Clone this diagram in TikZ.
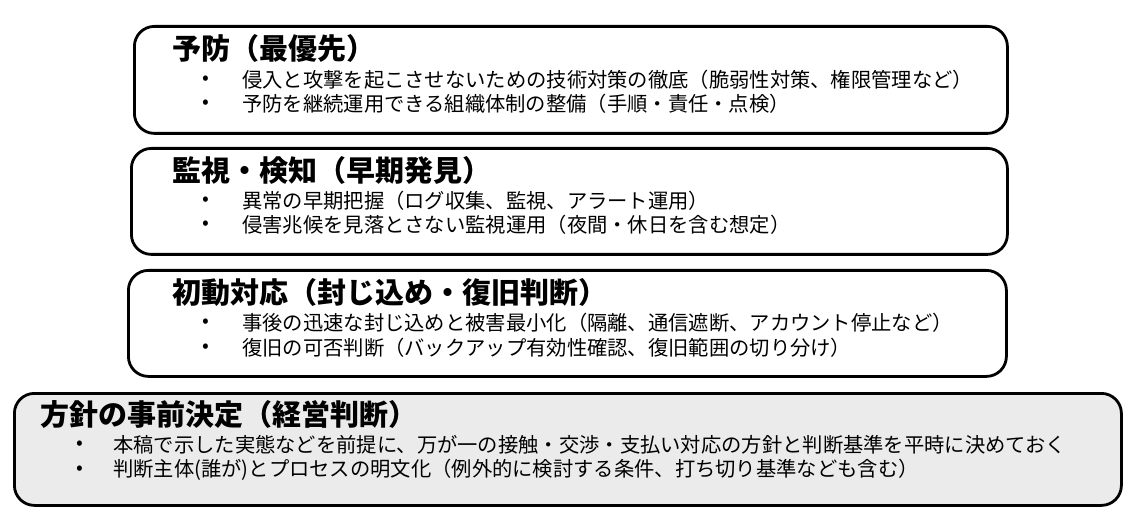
\documentclass[tikz,border=0pt]{standalone}
\usepackage{fontspec}
\setmainfont{Noto Sans CJK JP}
\usetikzlibrary{positioning}
\tikzset{
  stagebox/.style={draw,line width=2.8pt,rounded corners=20pt,inner sep=0pt,anchor=north west},
  stagetitle/.style={anchor=west,inner sep=0pt,font=\fontsize{29}{29}\selectfont\bfseries},
  stageitem/.style={anchor=west,inner sep=0pt,font=\fontsize{20.3}{20.3}\selectfont},
  stagedot/.style={inner sep=0pt,font=\fontsize{20}{20}\selectfont}
}

\begin{document}
\begin{tikzpicture}[x=1pt,y=-1pt]
    \useasboundingbox (0,0) rectangle (1140,521);
    % boxes, top to bottom
    \node[stagebox,minimum width=873pt,minimum height=107pt] (prevbox) at (133,25) {};
    \node[stagebox,minimum width=876pt,minimum height=106pt] (watchbox) at (130,147) {};
    \node[stagebox,minimum width=878pt,minimum height=106pt] (respbox) at (127,269) {};
    \node[stagebox,fill=black!8,minimum width=1107pt,minimum height=112pt] (policybox) at (13,392) {};
    % prevention
    \node[stagetitle] (prevtitle) at (172,48) {予防（最優先）};
    \node[stagedot] (prevdota) at (206,80) {•};
    \node[stageitem] (preva) at (242,80) {侵入と攻撃を起こさせないための技術対策の徹底（脆弱性対策、権限管理など）};
    \node[stagedot] (prevdotb) at (206,104) {•};
    \node[stageitem] (prevb) at (242,104) {予防を継続運用できる組織体制の整備（手順・責任・点検）};
    % monitoring
    \node[stagetitle] (watchtitle) at (172,170) {監視・検知（早期発見）};
    \node[stagedot] (watchdota) at (206,201) {•};
    \node[stageitem] (watcha) at (242,201) {異常の早期把握（ログ収集、監視、アラート運用）};
    \node[stagedot] (watchdotb) at (206,225) {•};
    \node[stageitem] (watchb) at (242,225) {侵害兆候を見落とさない監視運用（夜間・休日を含む想定）};
    % first response
    \node[stagetitle] (resptitle) at (172,292) {初動対応（封じ込め・復旧判断）};
    \node[stagedot] (respdota) at (206,323) {•};
    \node[stageitem] (respa) at (242,323) {事後の迅速な封じ込めと被害最小化（隔離、通信遮断、アカウント停止など）};
    \node[stagedot] (respdotb) at (206,348) {•};
    \node[stageitem] (respb) at (242,348) {復旧の可否判断（バックアップ有効性確認、復旧範囲の切り分け）};
    % policy
    \node[stagetitle] (policytitle) at (40,414) {方針の事前決定（経営判断）};
    \node[stagedot] (policydota) at (80,445) {•};
    \node[stageitem] (policya) at (113,445) {本稿で示した実態などを前提に、万が一の接触・交渉・支払い対応の方針と判断基準を平時に決めておく};
    \node[stagedot] (policydotb) at (80,470) {•};
    \node[stageitem] (policyb) at (113,470) {判断主体(誰が)とプロセスの明文化（例外的に検討する条件、打ち切り基準なども含む）};
\end{tikzpicture}
\end{document}
